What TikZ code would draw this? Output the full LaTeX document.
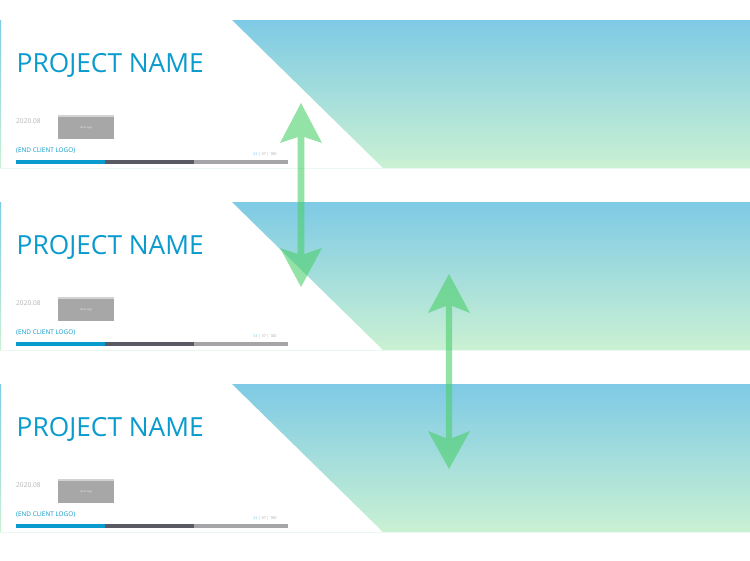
\documentclass[tikz,border=0pt]{standalone}
\usepackage{fontspec}
\setmainfont{Open Sans}
\usetikzlibrary{calc}
\definecolor{brand}{HTML}{0A9BCE}
\definecolor{gradtop}{HTML}{7ECAE5}
\definecolor{gradbot}{HTML}{CAF1D3}
\definecolor{mintline}{HTML}{EAF9EF}
\definecolor{arrowgreen}{RGB}{75,207,107}
\definecolor{datetext}{HTML}{B4B4B4}
\definecolor{logogray}{HTML}{A7A7A7}
\definecolor{logotop}{HTML}{D2D2D2}
\definecolor{bardark}{HTML}{595A63}
\definecolor{barlight}{HTML}{A5A5A7}
\definecolor{pagelight}{HTML}{7FCBEA}
\tikzset{
  title/.style={anchor=base west, inner sep=0, text=brand, font=\fontsize{26.3}{26.3}\selectfont},
  datestyle/.style={anchor=base west, inner sep=0, text=datetext, font=\fontsize{6.6}{6.6}\selectfont},
  clientstyle/.style={anchor=base west, inner sep=0, text=brand, font=\fontsize{6.4}{6.4}\selectfont},
  tinystyle/.style={anchor=base west, inner sep=0, text=barlight, font=\fontsize{3.8}{3.8}\selectfont},
  logostyle/.style={anchor=center, inner sep=0, text=white!85!logogray, font=\fontsize{2.6}{2.6}\selectfont},
  arrowfill/.style={fill=arrowgreen, fill opacity=0.6},
}
\begin{document}
\begin{tikzpicture}[x=1pt,y=-1pt]
\useasboundingbox (0,0) rectangle (750,560);
\fill[white] (0,0) rectangle (750,560);
\foreach \o/\n in {0/a,182/b,364/c}{
  \begin{scope}[yshift=-\o pt]
    \shade[top color=gradtop, bottom color=gradbot] (232,20) -- (750,20) -- (750,168) -- (383,168) -- cycle;
    \shade[top color=gradtop, bottom color=gradbot] (0,20) rectangle (1,168);
    \draw[mintline, line width=0.8pt] (0,168) -- (750,168);
    \node[title] (title\n) at (16.5,72) {PROJECT NAME};
    \node[datestyle] (date\n) at (16,123.5) {2020.08};
    \fill[logotop] (58,115) rectangle (114,116.5);
    \fill[logogray] (58,116.5) rectangle (114,139);
    \node[logostyle] (logo\n) at (86,127.5) {client logo};
    \node[clientstyle] (client\n) at (16,152.5) {(END CLIENT LOGO)};
    \node[tinystyle] (page\n) at (253,155) {\textcolor{pagelight}{33} | 37 | 100};
    \fill[brand] (16,159.5) rectangle (105,164);
    \fill[bardark] (105,159.5) rectangle (194,164);
    \fill[barlight] (194,159.5) rectangle (288,164);
  \end{scope}
}
% arrow 1
\coordinate (a1top) at (301,103);
\coordinate (a1bot) at (301,287);
\fill[arrowfill] (a1top) -- ($(a1top)+(21,40)$) -- ($(a1top)+(3.3,34)$) -- ($(a1bot)+(3.3,-33)$) -- ($(a1bot)+(21,-39)$) -- (a1bot) -- ($(a1bot)+(-21,-39)$) -- ($(a1bot)+(-3.3,-33)$) -- ($(a1top)+(-3.3,34)$) -- ($(a1top)+(-21,40)$) -- cycle;
% arrow 2
\coordinate (a2top) at (449,274);
\coordinate (a2bot) at (449,469);
\fill[arrowfill] (a2top) -- ($(a2top)+(21,39)$) -- ($(a2top)+(3.2,32)$) -- ($(a2bot)+(3.2,-31)$) -- ($(a2bot)+(21,-38)$) -- (a2bot) -- ($(a2bot)+(-21,-38)$) -- ($(a2bot)+(-3.2,-31)$) -- ($(a2top)+(-3.2,32)$) -- ($(a2top)+(-21,39)$) -- cycle;
\end{tikzpicture}
\end{document}
